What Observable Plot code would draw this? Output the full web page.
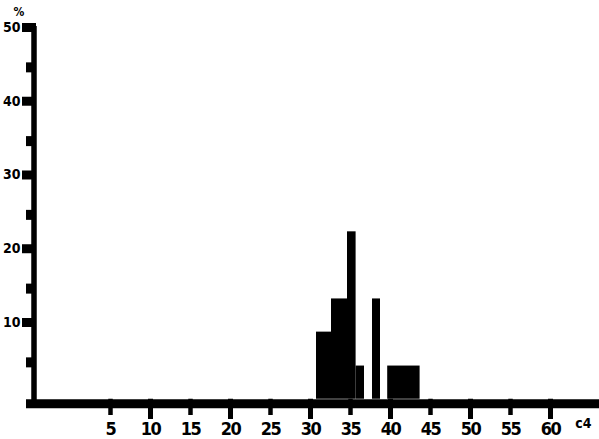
<!DOCTYPE html>
<html>
<head>
<meta charset="utf-8">
<script src="https://cdn.jsdelivr.net/npm/d3@7"></script>
<script src="https://cdn.jsdelivr.net/npm/@observablehq/plot@0.6"></script>
<style>
  html, body { margin: 0; padding: 0; background: #fff; }
  svg { display: block; }
  svg text { font-stretch: condensed; }
  .xlab text { letter-spacing: -1.5px; }
</style>
</head>
<body>
<div id="chart"></div>
<script>
// Histogram bins (c4) and heights (%)
const binStart = [30.75, 32.625, 34.625, 35.7, 37.75, 39.65];
const binEnd   = [32.625, 34.625, 35.7, 36.75, 38.75, 43.7];
const values   = [9.1, 13.6, 22.7, 4.5, 13.6, 4.5];

const xTickLabels = [5, 10, 15, 20, 25, 30, 35, 40, 45, 50, 55, 60];
const xMajor = [10, 20, 30, 40, 50, 60];
const xMinor = [5, 15, 25, 35, 45, 55];
const yMajor = [10, 20, 30, 40, 50];
const yMinor = [5, 15, 25, 35, 45];
const xLabel = "c4";
const yLabel = "%";

const bins = binStart.map((s, i) => ({x1: s, x2: binEnd[i], v: values[i]}));

const xDomain = [-5.5, 66.125];
const yDomain = [-1.12, 50.54];
const pxPerY = 7.375;
const fam = "'DejaVu Sans Condensed', 'DejaVu Sans', sans-serif";

const chart = Plot.plot({
  width: 599,
  height: 439,
  marginLeft: 26,
  marginRight: 0,
  marginTop: 26,
  marginBottom: 32,
  x: {domain: xDomain},
  y: {domain: yDomain},
  style: {background: "#fff", color: "#000"},
  marks: [
    Plot.rect(bins, {x1: "x1", x2: "x2", y1: 0, y2: "v", fill: "#000"}),
    // x ticks (hanging below the axis line)
    Plot.ruleX(xMajor, {x: d => d, y1: 0, y2: -(1.12 + 12 / pxPerY), stroke: "#000", strokeWidth: 5}),
    Plot.ruleX(xMinor, {x: d => d, y1: 0, y2: -(1.12 + 8 / pxPerY), stroke: "#000", strokeWidth: 4.5}),
    // x axis line
    Plot.ruleY([0], {x1: xDomain[0], x2: xDomain[1], stroke: "#000", strokeWidth: 9, dy: 4.5}),
    // y axis line
    Plot.ruleX([xDomain[0]], {y1: yDomain[0], y2: yDomain[1], stroke: "#000", strokeWidth: 5.5, dx: 7.5}),
    // y ticks
    Plot.axisY({ticks: yMajor, tickSize: 14, strokeWidth: 9, dx: 10, tickPadding: 2, label: null,
      fontSize: 14, fontWeight: "bold", fontFamily: fam, dy: -3}),
    Plot.axisY({ticks: yMinor, tickSize: 10, strokeWidth: 10, dx: 10, label: null, tickFormat: () => ""}),
    Plot.axisX({ticks: xTickLabels, tickSize: 0, tickPadding: 15, label: null, className: "xlab",
      fontSize: 18, fontWeight: "bold", fontFamily: fam}),
    // axis titles
    Plot.text([yLabel], {frameAnchor: "top-left", text: d => d, dx: -13, dy: -19,
      fontSize: 12, fontWeight: "bold", fontFamily: fam, fill: "#000", textAnchor: "start", lineAnchor: "top"}),
    Plot.text([xLabel], {frameAnchor: "bottom-right", text: d => d, dx: -8, dy: 11,
      fontSize: 14, fontWeight: "bold", fontFamily: fam, fill: "#000", textAnchor: "end", lineAnchor: "top"})
  ]
});
document.getElementById("chart").appendChild(chart);
</script>
</body>
</html>
